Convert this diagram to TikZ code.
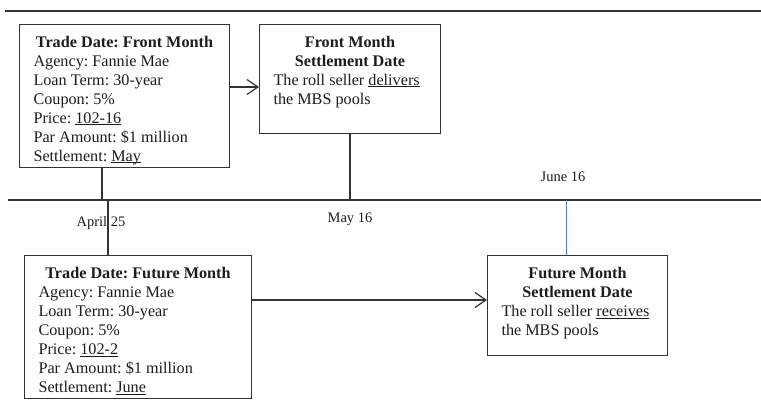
\documentclass[tikz,border=0pt]{standalone}
\usepackage{fontspec}
\setmainfont{Liberation Serif}
\usetikzlibrary{arrows.meta,calc}
\definecolor{ink}{HTML}{1E1C1D}
\definecolor{rulec}{HTML}{333333}
\definecolor{bluel}{HTML}{4F81BD}
\frenchspacing
\newcommand\uln[1]{\setbox0\hbox{#1}\rlap{\rule[-2pt]{\wd0}{0.7pt}}\box0}
\newcommand\boxtext[4]{\begin{minipage}[t][#2pt][t]{#1pt}\fontsize{16.2}{19}\selectfont
{\centering\bfseries\rule{0pt}{22.7pt}#3\par}
{\raggedright\leftskip=14pt #4\par}
\end{minipage}}
\begin{document}
\begin{tikzpicture}[x=1pt,y=-1pt,
  box/.style={draw=rulec, line width=1pt, inner sep=0pt, anchor=north west, text=ink},
  conn/.style={draw=rulec, line width=1.3pt},
  arr/.style={conn, -{Straight Barb[length=11pt,width=15pt,line width=1.2pt]}},
  datelbl/.style={font=\fontsize{14.5}{17}\selectfont, text=ink, inner sep=0pt, anchor=base}]
\useasboundingbox (0,0) rectangle (761,412);
\coordinate (topL) at (5,11);
\coordinate (topR) at (761,11);
\coordinate (tlL) at (8,200);
\coordinate (tlR) at (761,200);
\draw[conn, line width=1.6pt] (topL) -- (topR);
\draw[conn] (tlL) -- (tlR);
\node[box] (b1) at (19,24) {\boxtext{210}{143}{Trade Date: Front Month}{Agency: Fannie Mae\\Loan Term: 30-year\\Coupon: 5\%\\Price: \uln{102-16}\\Par Amount: \$1 million\\Settlement: \uln{May}}};
\node[box] (b2) at (259,24) {\boxtext{181}{109}{Front Month\\Settlement Date}{The roll seller \uln{delivers}\\the MBS pools}};
\node[box] (b3) at (24,255) {\boxtext{227}{143}{Trade Date: Future Month}{Agency: Fannie Mae\\Loan Term: 30-year\\Coupon: 5\%\\Price: \uln{102-2}\\Par Amount: \$1 million\\Settlement: \uln{June}}};
\node[box] (b4) at (487,255) {\boxtext{180}{100}{Future Month\\Settlement Date}{The roll seller \uln{receives}\\the MBS pools}};
\coordinate (a1) at (0,87);
\coordinate (a2) at (0,300);
\draw[arr] (b1.east |- a1) -- (b2.west |- a1);
\draw[arr] (b3.east |- a2) -- (b4.west |- a2);
\coordinate (v1) at (102,200);
\coordinate (v1b) at (108,200);
\coordinate (v3) at (566,200);
\draw[conn] (b1.south -| v1) -- (v1);
\draw[conn] (v1b) -- (v1b |- b3.north);
\draw[conn] (b2.south) -- (b2.south |- tlL);
\draw[draw=bluel, line width=1pt] (v3) -- (v3 |- b4.north);
\node[datelbl] (d1) at (101,226) {April 25};
\node[datelbl] (d2) at (350,222.7) {May 16};
\node[datelbl] (d3) at (563,181) {June 16};
\end{tikzpicture}
\end{document}
